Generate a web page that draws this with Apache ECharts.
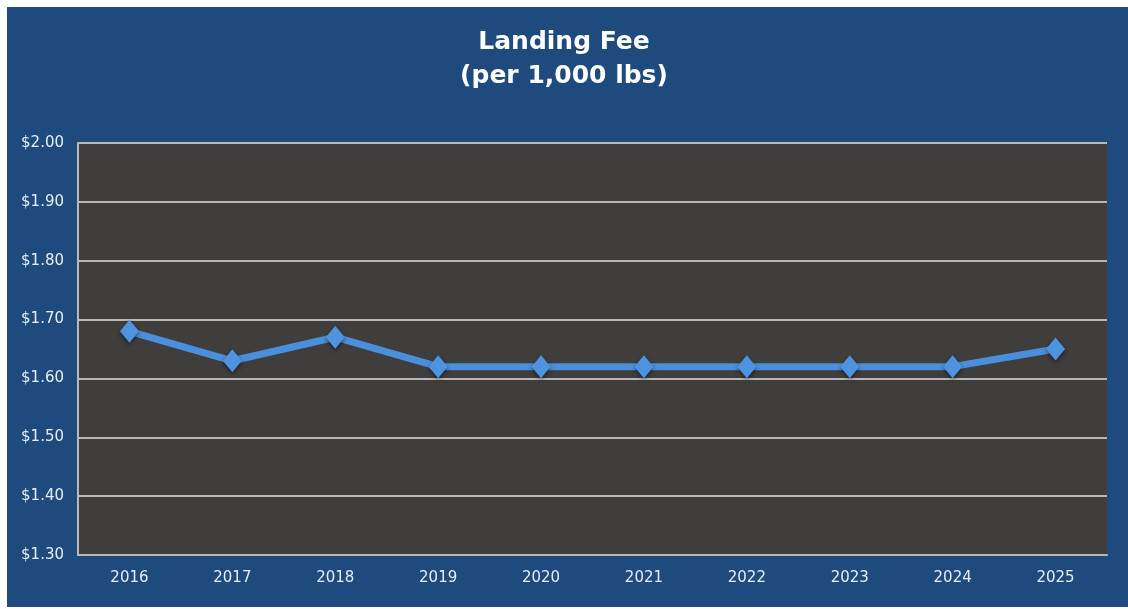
<!DOCTYPE html>
<html>
<head>
<meta charset="utf-8">
<style>
  html, body { margin: 0; padding: 0; background: #ffffff; }
  #chart { width: 1128px; height: 609px; }
</style>
<script src="https://cdn.jsdelivr.net/npm/echarts@6/dist/echarts.min.js"></script>
</head>
<body>
<div id="chart"></div>
<script>
// Landing fee per 1,000 lbs, by fiscal year
const years = ['2016', '2017', '2018', '2019', '2020', '2021', '2022', '2023', '2024', '2025'];
const fees = [1.68, 1.63, 1.67, 1.62, 1.62, 1.62, 1.62, 1.62, 1.62, 1.65];
const titleLines = ['Landing Fee', '(per 1,000 lbs)'];

const chart = echarts.init(document.getElementById('chart'), null, { renderer: 'canvas' });

chart.setOption({
  backgroundColor: '#ffffff',
  animation: false,
  graphic: [
    {
      type: 'rect',
      z: -10,
      shape: { x: 7, y: 7, width: 1121, height: 600 },
      style: { fill: '#1f4a7e' }
    }
  ],
  title: {
    text: titleLines.join('\n'),
    left: 'center',
    top: 20,
    textStyle: {
      color: '#ffffff',
      fontFamily: 'DejaVu Sans',
      fontWeight: 'bold',
      fontSize: 25,
      lineHeight: 34
    }
  },
  grid: {
    left: 78,
    top: 143,
    right: 21,
    bottom: 54,
    show: true,
    backgroundColor: '#403e3d',
    borderWidth: 0
  },
  xAxis: {
    type: 'category',
    data: years,
    boundaryGap: true,
    axisLine: { show: true, lineStyle: { color: '#b8b8b8', width: 2 } },
    axisTick: { show: false },
    axisLabel: {
      color: '#e6edf5',
      fontFamily: 'DejaVu Sans',
      fontSize: 15,
      margin: 16
    }
  },
  yAxis: {
    type: 'value',
    min: 1.3,
    max: 2.0,
    interval: 0.1,
    axisLine: { show: true, lineStyle: { color: '#b8b8b8', width: 2 } },
    axisTick: { show: false },
    splitLine: { lineStyle: { color: '#b8b8b8', width: 2 } },
    axisLabel: {
      color: '#e6edf5',
      fontFamily: 'DejaVu Sans',
      fontSize: 15,
      margin: 14,
      formatter: v => '$' + v.toFixed(2)
    }
  },
  series: [
    {
      type: 'line',
      data: fees,
      symbol: 'diamond',
      symbolSize: [19, 23],
      lineStyle: { color: '#4a8fdc', width: 7 },
      itemStyle: {
        color: '#4d93e0',
        shadowColor: 'rgba(0,0,0,0.5)',
        shadowBlur: 4,
        shadowOffsetY: 2
      }
    }
  ]
});
</script>
</body>
</html>
